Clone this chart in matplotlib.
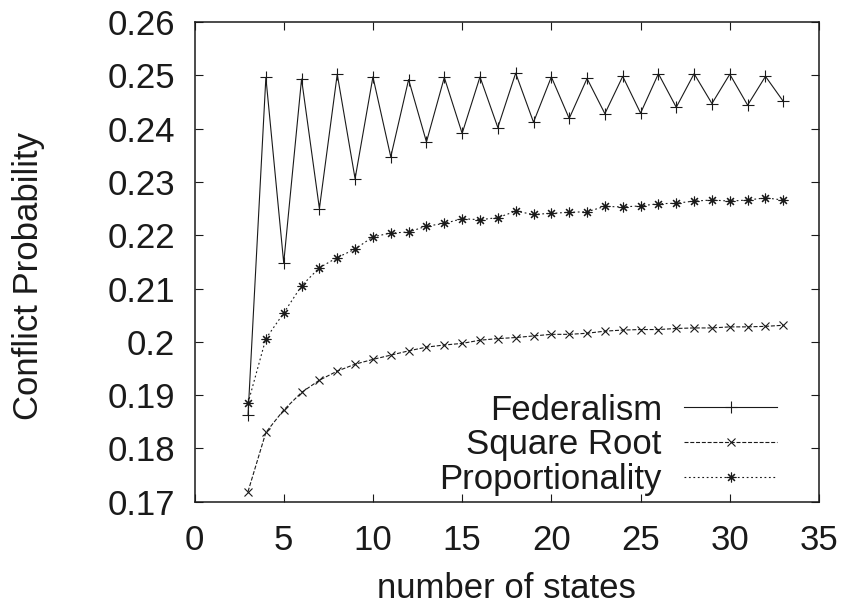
import matplotlib
matplotlib.use("Agg")
import matplotlib.pyplot as plt

n_states = list(range(3, 34))
federalism = [0.1863, 0.2496, 0.2148, 0.2493, 0.2250, 0.2502, 0.2306, 0.2497,
              0.2347, 0.2492, 0.2375, 0.2496, 0.2391, 0.2497, 0.2402, 0.2504,
              0.2412, 0.2497, 0.2419, 0.2494, 0.2428, 0.2498, 0.2429, 0.2503,
              0.2440, 0.2503, 0.2447, 0.2502, 0.2444, 0.2498, 0.2451]
square_root = [0.1719, 0.1830, 0.1872, 0.1905, 0.1928, 0.1945, 0.1958, 0.1967,
               0.1975, 0.1983, 0.1990, 0.1994, 0.1997, 0.2003, 0.2006, 0.2008,
               0.2011, 0.2014, 0.2014, 0.2016, 0.2020, 0.2022, 0.2023, 0.2023,
               0.2025, 0.2026, 0.2026, 0.2028, 0.2028, 0.2029, 0.2031]
proportionality = [0.1885, 0.2006, 0.2054, 0.2105, 0.2139, 0.2158, 0.2174, 0.2197,
                   0.2204, 0.2206, 0.2217, 0.2222, 0.2231, 0.2229, 0.2233, 0.2245,
                   0.2239, 0.2241, 0.2243, 0.2244, 0.2254, 0.2253, 0.2255, 0.2259,
                   0.2260, 0.2264, 0.2266, 0.2264, 0.2266, 0.2270, 0.2266]

x_ticks = [0, 5, 10, 15, 20, 25, 30, 35]
y_ticks = [0.17, 0.18, 0.19, 0.2, 0.21, 0.22, 0.23, 0.24, 0.25, 0.26]
y_tick_labels = ["0.17", "0.18", "0.19", "0.2", "0.21", "0.22", "0.23", "0.24", "0.25", "0.26"]

plt.rcParams['font.family'] = ['Liberation Sans', 'DejaVu Sans']

W, H = 848, 610
FS = 25
fig = plt.figure(figsize=(W / 100, H / 100), dpi=100)
ax = fig.add_axes([194.5 / W, 1 - 501.7 / H, (819 - 194.5) / W, (501.7 - 22) / H])

ink = '#1a1a1a'
lw = 0.8
ax.plot(n_states, federalism, color=ink, lw=lw, linestyle='-', marker='+',
        markersize=8, markeredgewidth=0.8, label='Federalism')
ax.plot(n_states, square_root, color=ink, lw=lw, linestyle=(0, (3.6, 1.6)), marker='x',
        markersize=6, markeredgewidth=0.8, label='Square Root')
ax.plot(n_states, proportionality, color=ink, lw=lw, linestyle=(0, (1.6, 2.4)),
        marker=(8, 2, 0), markersize=7, markeredgewidth=0.8, label='Proportionality')

ax.set_xlim(0, 35)
ax.set_ylim(0.17, 0.26)
ax.set_xticks(x_ticks)
ax.set_yticks(y_ticks)
ax.set_yticklabels(y_tick_labels)
ax.tick_params(direction='in', length=5.5, width=0.8, color=ink, top=True, right=True,
               labelsize=FS, labelcolor=ink)
ax.tick_params(axis='y', pad=14)
ax.tick_params(axis='x', pad=16)
for s in ax.spines.values():
    s.set_linewidth(1.1)
    s.set_color(ink)

ax.set_xlabel('number of states', fontsize=FS, color=ink)
ax.xaxis.set_label_coords(506.7 / W, 1 - 572 / H, transform=fig.transFigure)
ax.set_ylabel('Conflict Probability', fontsize=FS, color=ink)
ax.yaxis.set_label_coords(45 / W, 1 - 276.5 / H, transform=fig.transFigure)

leg = ax.legend(loc='lower right', bbox_to_anchor=(776.7 / W, (610 - 496) / H),
                bbox_transform=fig.transFigure, frameon=False, markerfirst=False,
                fontsize=FS, handlelength=2.66, handletextpad=0.65, labelspacing=0.05,
                borderpad=0, borderaxespad=0, numpoints=1)
for t in leg.get_texts():
    t.set_color(ink)

fig.savefig('out.png', dpi=100)
